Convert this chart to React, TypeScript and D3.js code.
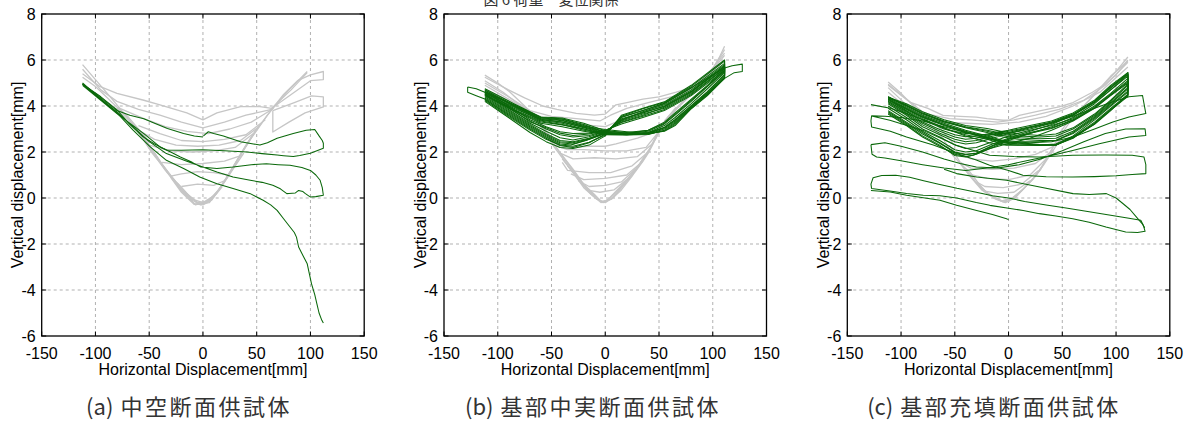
import * as d3 from 'd3';

type Pt = [number, number];

// axis ticks and labels
const xTicks = [-150, -100, -50, 0, 50, 100, 150];
const yTicks = [-6, -4, -2, 0, 2, 4, 6, 8];
const xLabel = 'Horizontal Displacement[mm]';
const yLabel = 'Vertical displacement[mm]';
const figTitle = '図 6 荷重－変位関係';
const captionTags = ['(a)', '(b)', '(c)'];
const captionNames = ['中空断面供試体', '基部中実断面供試体', '基部充填断面供試体'];

// (a) hollow section - earlier cycles (gray)
const grayA: Pt[][] = [
  [[-112, 5.8], [-100, 5.15], [-90, 4.6], [-80, 4.05], [-65, 3.2], [-50, 2.2], [-35, 1.2], [-20, 0.35], [-8, -0.25], [0, -0.3], [8, -0.1], [15, 0.35], [28, 1.35], [40, 2.3], [47, 2.8], [56, 3.35], [64, 3.85], [80, 4.7], [97, 5.5]],
  [[97, 5.45], [82, 4.7], [64, 3.9], [53, 3.97], [35, 3.97], [13, 3.7], [0, 3.4], [-15, 3.7], [-40, 4.05], [-55, 4.25], [-80, 4.55], [-96, 4.85], [-112, 5.4]],
  [[-112, 5.6], [-95, 4.7], [-80, 4.2], [-60, 3.85], [-40, 3.6], [-20, 3.3], [0, 3.05], [20, 3.3], [40, 3.6], [64, 3.85]],
  [[64, 3.85], [45, 3.3], [25, 3.0], [5, 2.8], [-15, 2.9], [-35, 3.1], [-55, 3.45], [-80, 3.95]],
  [[-80, 3.9], [-62, 3.05], [-48, 2.15], [-38, 1.45], [-25, 0.7], [-12, 0.05], [-4, -0.25], [6, -0.2], [16, 0.45], [30, 1.5], [45, 2.6], [60, 3.6], [66, 3.95]],
  [[58, 3.4], [40, 2.75], [20, 2.55], [0, 2.45], [-20, 2.5], [-40, 2.8], [-60, 3.15]],
  [[-62, 3.0], [-48, 2.0], [-36, 1.3], [-22, 0.45], [-10, -0.1], [-2, -0.3], [10, 0.05], [22, 0.85], [35, 1.9], [50, 3.0]],
  [[47, 2.8], [30, 2.2], [10, 2.05], [-10, 2.0], [-30, 2.05], [-50, 2.3]],
  [[-45, 1.95], [-32, 1.05], [-20, 0.3], [-7, -0.3], [5, -0.15], [18, 0.55], [30, 1.4], [38, 1.95]],
  [[36, 1.85], [20, 1.6], [0, 1.5], [-20, 1.45], [-38, 1.55]],
  [[-30, 0.9], [-20, 0.25], [-8, -0.28], [4, -0.2], [14, 0.3], [24, 1.0]],
  [[24, 1.0], [10, 1.1], [-5, 1.15], [-20, 1.05], [-30, 0.95]],
  [[-20, 0.5], [-5, 0.6], [10, 0.55], [20, 0.75]],
  [[-24, 0.65], [-10, -0.05], [0, -0.2], [12, 0.15], [18, 0.5]],
  [[-66, 3.3], [-52, 2.45], [-40, 1.6], [-28, 0.85], [-15, 0.2], [-5, -0.2], [4, -0.15], [14, 0.3], [26, 1.15], [38, 2.1], [52, 3.15]],
  [[52, 3.1], [35, 2.5], [15, 2.3], [-5, 2.25], [-25, 2.3], [-45, 2.55], [-62, 3.0]],
  [[64, 3.85], [75, 4.5], [88, 5.1], [100, 5.35], [112, 5.5], [112, 5.15], [100, 5.1], [85, 4.6], [64, 3.9]],
  [[65, 3.8], [65, 2.87], [80, 3.3], [95, 3.7], [112, 3.96], [112, 4.4], [101, 4.44], [85, 4.15], [65, 3.8]],
  [[-112, 5.25], [-100, 4.85], [-90, 4.4], [-80, 3.95], [-70, 3.55], [-60, 3.0], [-50, 2.45]],
  [[-112, 4.95], [-100, 4.55], [-90, 4.2], [-80, 3.85]],
];

// (a) final cycles (green)
const greenA: Pt[][] = [
  [[0.5, 2.7], [5, 2.88], [10, 2.8], [19, 2.7], [35, 2.45], [47, 2.35], [53, 2.3], [60, 2.4], [69, 2.6], [84, 2.8], [96, 2.95], [104, 2.98], [108, 2.7], [111, 2.5], [112, 2.38], [112, 2.16], [100, 1.95], [90, 1.85], [84, 1.8], [75, 1.84], [69, 1.87], [55, 1.93], [41, 2.0], [20, 2.05], [0, 2.1], [-20, 2.08], [-34, 2.09], [-45, 2.35], [-56, 2.67], [-68, 3.2], [-80, 3.83], [-95, 4.4], [-112, 4.95]],
  [[-112, 4.95], [-95, 4.35], [-80, 3.8], [-68, 3.6], [-55, 3.45], [-45, 3.25], [-33, 3.02], [-18, 2.8], [-8, 2.7], [0, 2.65]],
  [[-112, 4.9], [-95, 4.25], [-80, 3.67], [-65, 3.15], [-55, 2.8], [-40, 2.22], [-30, 2.0], [-21, 1.78], [-10, 1.55], [-2, 1.35], [13, 1.28], [28, 1.35], [45, 1.45], [59, 1.49], [70, 1.45], [81, 1.42], [92, 1.33], [100, 1.2], [105, 1.0], [109, 0.77], [111, 0.45], [112, 0.12], [105, 0.06], [100, 0.04], [95, 0.2], [93, 0.28], [89, 0.33], [86, 0.22], [80, 0.2], [78, 0.19], [72, 0.4], [65, 0.55], [55, 0.68], [44, 0.77], [28, 0.91], [13, 1.13], [0, 1.35], [-15, 1.6], [-34, 1.93], [-50, 2.45], [-65, 3.09], [-80, 3.74], [-95, 4.3], [-112, 4.95]],
  [[-112, 5.0], [-95, 4.3], [-80, 3.7], [-65, 2.95], [-49, 2.22], [-34, 1.64], [-18, 1.28], [-3, 0.91], [13, 0.62], [28, 0.41], [44, 0.19], [56, -0.1], [63, -0.3], [69, -0.54], [75, -0.9], [81, -1.26], [85, -1.5], [87, -1.7], [89, -2.13], [93, -2.5], [97, -2.86], [99, -3.3], [101, -3.73], [104, -4.2], [106, -4.6], [108, -5.0], [110.6, -5.32], [112, -5.44]],
];

// (b) solid base section
const grayB: Pt[][] = [
  [[-112, 5.34], [-100, 5.0], [-89, 4.62], [-75, 4.0], [-64, 3.46], [-56, 2.9], [-49, 2.31], [-40, 1.75], [-33, 1.3], [-25, 0.85], [-18, 0.43], [-10, 0.1], [-5, -0.1], [-2, -0.2], [4, 0], [12, 0.35], [19.5, 0.72], [28, 1.15], [35, 1.59], [40, 1.95], [44, 2.31], [48, 2.7], [50, 3.03], [58, 3.5], [66, 3.9], [81, 4.62], [92, 5.2], [100, 5.63], [106, 6.1], [111, 6.6]],
  [[111, 6.45], [100, 5.6], [90, 5.15], [80, 4.8], [66, 4.6], [50, 4.4], [35, 4.3], [20, 4.15], [10, 4.05], [0, 3.65], [-10, 3.6], [-27, 3.68], [-45, 3.85], [-58, 4.0], [-75, 4.35], [-90, 4.7], [-112, 5.25]],
  [[-112, 5.0], [-90, 4.4], [-70, 3.8], [-50, 3.55], [-27, 3.45], [-5, 3.35], [5, 3.6], [20, 3.9], [40, 4.15], [66, 4.45], [90, 5.0], [111, 6.2]],
  [[-112, 4.9], [-90, 4.3], [-64, 3.6], [-45, 3.3], [-25, 3.2], [0, 3.1], [15, 3.4], [35, 3.75], [60, 4.15], [85, 4.9], [111, 6.0]],
  [[-65, 3.55], [-55, 2.95], [-47, 2.3], [-38, 1.7], [-30, 1.2], [-20, 0.55], [-10, 0.1], [-4, -0.15], [2, -0.1], [10, 0.3], [20, 0.8], [32, 1.45], [42, 2.2], [50, 2.95], [58, 3.5], [66, 3.95]],
  [[66, 3.85], [55, 3.25], [45, 2.85], [30, 2.6], [10, 2.35], [0, 2.25], [-15, 2.25], [-30, 2.2], [-45, 2.3], [-55, 2.8], [-65, 3.4]],
  [[-50, 2.45], [-40, 1.85], [-30, 1.25], [-20, 0.6], [-10, 0.15], [-3, -0.18], [5, -0.05], [15, 0.45], [28, 1.2], [38, 1.85], [46, 2.5], [52, 3.0]],
  [[50, 2.9], [38, 2.2], [20, 2.05], [0, 2.05], [-20, 2.1], [-35, 2.1], [-48, 2.3]],
  [[45, 2.4], [30, 1.8], [10, 1.7], [-10, 1.75], [-30, 1.7], [-42, 1.95]],
  [[40, 2.0], [25, 1.4], [5, 1.1], [-15, 1.1], [-35, 1.2], [-40, 1.55]],
  [[35, 1.6], [20, 1.0], [0, 0.85], [-20, 0.8], [-32, 1.05]],
  [[28, 1.25], [15, 0.7], [0, 0.55], [-15, 0.5], [-25, 0.75]],
  [[20, 0.8], [8, 0.35], [-5, 0.25], [-18, 0.35]],
  [[-40, 1.7], [-30, 1.1], [-20, 0.45], [-8, -0.05], [0, -0.2], [8, 0.05], [18, 0.6], [30, 1.35], [40, 2.05]],
  [[-35, 1.4], [-25, 0.8], [-14, 0.2], [-4, -0.2], [6, -0.05], [15, 0.35], [25, 0.95], [35, 1.7]],
  [[50, 3.03], [66, 3.85], [80, 4.5], [95, 5.35], [111, 6.3]],
  [[55, 3.35], [75, 4.3], [95, 5.3], [111, 6.0]],
  [[-112, 5.1], [-95, 4.6], [-80, 4.05], [-65, 3.45], [-55, 2.85]],
  [[-112, 4.75], [-95, 4.35], [-75, 3.85]],
];

const greenB: Pt[][] = [
  [[-112, 4.3], [-90, 3.6], [-70, 3.0], [-55, 2.6], [-42, 2.28], [-30, 2.2], [-15, 2.4], [0, 2.78], [15, 3.55], [35, 3.88], [55, 4.15], [80, 4.85], [111, 5.95], [111, 5.6], [95, 4.9], [80, 4.3], [65, 3.7], [55, 3.3], [40, 2.95], [20, 2.8], [0, 2.85], [-20, 3.15], [-40, 3.42], [-60, 3.45], [-85, 4.0], [-112, 4.7]],
  [[-112, 4.45], [-90, 3.8], [-70, 3.2], [-55, 2.8], [-42, 2.5], [-30, 2.45], [-15, 2.6], [0, 2.85], [15, 3.4], [35, 3.75], [55, 4.05], [80, 4.7], [111, 5.8], [111, 5.45], [95, 4.75], [80, 4.1], [65, 3.5], [55, 3.15], [40, 2.85], [20, 2.75], [0, 2.8], [-20, 3.05], [-40, 3.3], [-60, 3.4], [-85, 3.9], [-112, 4.6]],
  [[-112, 4.55], [-90, 3.9], [-70, 3.35], [-55, 3.0], [-42, 2.75], [-30, 2.65], [-15, 2.72], [0, 2.9], [15, 3.3], [35, 3.6], [55, 3.95], [80, 4.6], [111, 5.7], [111, 5.35], [95, 4.6], [80, 4.0], [65, 3.4], [55, 3.05], [40, 2.8], [20, 2.78], [0, 2.78], [-20, 2.95], [-40, 3.2], [-60, 3.35], [-85, 3.85], [-112, 4.5]],
  [[-112, 4.2], [-90, 3.5], [-70, 2.85], [-55, 2.45], [-42, 2.2], [-30, 2.15], [-15, 2.3], [0, 2.7], [15, 3.6], [35, 3.9], [55, 4.18], [80, 4.9], [111, 6.0], [111, 5.5], [95, 4.85], [80, 4.25], [65, 3.65], [55, 3.25], [40, 2.95], [20, 2.85], [0, 2.92], [-20, 3.25], [-40, 3.48], [-60, 3.52], [-85, 4.1], [-112, 4.75]],
  [[-112, 4.35], [-90, 3.7], [-70, 3.1], [-55, 2.7], [-42, 2.4], [-30, 2.35], [-15, 2.55], [0, 2.82], [15, 3.45], [35, 3.7], [55, 4.0], [80, 4.65], [111, 5.75], [111, 5.3], [95, 4.55], [80, 3.95], [65, 3.3], [55, 3.0], [40, 2.78], [20, 2.75], [0, 2.75], [-20, 2.9], [-40, 3.1], [-60, 3.25], [-85, 3.8], [-112, 4.45]],
  [[-112, 4.5], [-90, 3.85], [-70, 3.25], [-55, 2.9], [-42, 2.62], [-30, 2.52], [-15, 2.66], [0, 2.88], [15, 3.35], [35, 3.65], [55, 3.9], [80, 4.55], [111, 5.65], [111, 5.25], [95, 4.5], [80, 3.92], [65, 3.25], [55, 2.95], [40, 2.76], [20, 2.74], [0, 2.76], [-20, 3.0], [-40, 3.25], [-60, 3.38], [-85, 3.95], [-112, 4.55]],
  [[-112, 4.65], [-90, 4.0], [-70, 3.4], [-55, 3.1], [-42, 2.88], [-30, 2.8], [-15, 2.82], [0, 2.95], [15, 3.22], [35, 3.5], [55, 3.8], [80, 4.45], [111, 5.55], [111, 5.2], [95, 4.45], [80, 3.88], [65, 3.15], [55, 2.9], [40, 2.8], [20, 2.88], [0, 2.98], [-20, 3.12], [-40, 3.36], [-60, 3.46], [-85, 4.02], [-112, 4.65]],
  [[-128, 4.83], [-128, 4.6], [-120, 4.45], [-112, 4.3], [-90, 3.65], [-70, 3.05], [-55, 2.65], [-42, 2.35], [-32, 2.3], [-18, 2.5], [0, 2.8], [15, 3.5], [35, 3.8], [55, 4.12], [80, 4.8], [111, 5.65], [118, 5.75], [127.5, 5.82], [127.5, 5.5], [120, 5.45], [111, 5.2], [95, 4.55], [80, 3.95], [65, 3.35], [55, 3.05], [40, 2.85], [20, 2.78], [0, 2.82], [-20, 3.1], [-40, 3.38], [-60, 3.5], [-85, 4.05], [-112, 4.6], [-120, 4.75], [-128, 4.83]],
  [[-112, 4.25], [-90, 3.55], [-70, 2.95], [-55, 2.55], [-42, 2.3], [-30, 2.25], [-15, 2.42], [0, 2.74], [15, 3.52], [35, 3.8], [55, 4.1], [80, 4.78], [111, 5.85], [111, 5.55], [95, 4.85], [80, 4.2], [65, 3.6], [55, 3.22], [40, 2.9], [20, 2.8], [0, 2.86], [-20, 3.2], [-40, 3.44], [-60, 3.5], [-85, 4.05], [-112, 4.7]],
  [[-112, 4.4], [-90, 3.75], [-70, 3.15], [-55, 2.75], [-42, 2.45], [-30, 2.4], [-15, 2.58], [0, 2.84], [15, 3.38], [35, 3.72], [55, 3.98], [80, 4.62], [111, 5.72], [111, 5.38], [95, 4.62], [80, 4.02], [65, 3.42], [55, 3.08], [40, 2.82], [20, 2.76], [0, 2.8], [-20, 3.0], [-40, 3.18], [-60, 3.3], [-85, 3.82], [-112, 4.5]],
  [[-112, 4.6], [-90, 3.95], [-70, 3.3], [-55, 3.05], [-42, 2.82], [-30, 2.72], [-15, 2.78], [0, 2.93], [15, 3.28], [35, 3.55], [55, 3.85], [80, 4.5], [111, 5.62], [111, 5.22], [95, 4.48], [80, 3.9], [65, 3.2], [55, 2.92], [40, 2.78], [20, 2.82], [0, 2.9], [-20, 3.08], [-40, 3.3], [-60, 3.42], [-85, 3.98], [-112, 4.62]],
];

// (c) filled base section
const grayC: Pt[][] = [
  [[-112, 5.04], [-100, 4.55], [-92, 4.17], [-80, 3.6], [-70, 3.05], [-61, 2.6], [-52, 1.86], [-44, 1.45], [-36, 1.13], [-28, 0.65], [-21, 0.26], [-12, 0.0], [-5, -0.17], [0, -0.15], [7, 0.12], [15, 0.45], [23, 0.84], [30, 1.25], [35, 1.71], [40, 2.1], [44, 2.43], [48, 2.85], [55, 3.3], [65, 3.75], [78, 4.4], [90, 5.0], [100, 5.5], [111, 6.13]],
  [[111, 6.0], [100, 5.35], [90, 4.95], [78, 4.6], [60, 4.15], [47, 3.96], [30, 3.8], [10, 3.59], [0, 3.38], [-5, 3.38], [-20, 3.45], [-30, 3.52], [-45, 3.55], [-61, 3.59], [-75, 3.9], [-92, 4.17], [-112, 4.9]],
  [[-112, 4.8], [-95, 4.05], [-75, 3.65], [-55, 3.45], [-35, 3.4], [-10, 3.3], [5, 3.4], [25, 3.6], [47, 3.85], [70, 4.25], [90, 4.9], [111, 5.9]],
  [[-112, 4.6], [-95, 3.95], [-78, 3.5], [-60, 3.3], [-40, 3.25], [-15, 3.2], [10, 3.3], [35, 3.55], [60, 4.0], [85, 4.6], [111, 5.7]],
  [[-55, 2.3], [-45, 1.55], [-36, 1.0], [-25, 0.4], [-15, 0.05], [-6, -0.15], [3, -0.05], [12, 0.3], [22, 0.8], [32, 1.4], [42, 2.1], [50, 2.7]],
  [[50, 2.6], [40, 2.2], [25, 1.9], [5, 1.7], [-15, 1.6], [-35, 1.7], [-50, 2.0]],
  [[42, 2.1], [25, 1.5], [5, 1.3], [-15, 1.25], [-35, 1.3], [-45, 1.55]],
  [[36, 1.75], [20, 1.0], [0, 0.8], [-20, 0.85], [-38, 1.05]],
  [[28, 1.2], [12, 0.6], [-5, 0.45], [-22, 0.5], [-30, 0.7]],
  [[20, 0.75], [5, 0.25], [-10, 0.2], [-22, 0.3]],
  [[-45, 1.5], [-35, 0.9], [-25, 0.35], [-12, -0.05], [-3, -0.2], [6, 0.0], [15, 0.45], [26, 1.0], [36, 1.75], [45, 2.5]],
  [[-40, 1.25], [-30, 0.65], [-18, 0.15], [-6, -0.12], [4, 0.02], [14, 0.4], [24, 0.9], [33, 1.5]],
  [[44, 2.43], [60, 3.5], [78, 4.4], [95, 5.3], [111, 5.95]],
  [[-112, 4.95], [-95, 4.3], [-80, 3.75], [-65, 3.1], [-52, 2.4]],
];

const greenC: Pt[][] = [
  [[-112, 3.7], [-95, 3.2], [-80, 2.7], [-64, 2.3], [-50, 1.85], [-40, 1.78], [-30, 1.9], [-15, 2.2], [0, 2.5], [20, 2.8], [40, 3.1], [60, 3.5], [80, 4.1], [95, 4.7], [111, 5.35], [111, 4.6], [95, 4.0], [80, 3.4], [60, 2.7], [44, 2.35], [29, 2.3], [10, 2.35], [-5, 2.4], [-20, 2.6], [-40, 2.85], [-60, 3.15], [-80, 3.5], [-95, 3.85], [-112, 4.3]],
  [[-112, 3.9], [-95, 3.4], [-80, 2.9], [-64, 2.5], [-50, 2.1], [-40, 2.0], [-30, 2.05], [-15, 2.35], [0, 2.6], [20, 2.9], [40, 3.2], [60, 3.6], [80, 4.2], [95, 4.8], [111, 5.45], [111, 4.75], [95, 4.1], [80, 3.5], [60, 2.85], [44, 2.5], [29, 2.45], [10, 2.45], [-5, 2.5], [-20, 2.7], [-40, 2.95], [-60, 3.25], [-80, 3.6], [-95, 3.95], [-112, 4.4]],
  [[-112, 4.0], [-95, 3.5], [-80, 3.0], [-64, 2.65], [-50, 2.3], [-40, 2.15], [-30, 2.2], [-15, 2.45], [0, 2.7], [20, 2.95], [40, 3.15], [60, 3.45], [80, 4.0], [95, 4.55], [111, 5.2], [111, 4.5], [95, 3.9], [80, 3.3], [60, 2.65], [44, 2.3], [29, 2.28], [10, 2.3], [-5, 2.35], [-20, 2.55], [-40, 2.75], [-60, 3.0], [-80, 3.4], [-95, 3.75], [-112, 4.2]],
  [[-112, 3.8], [-95, 3.3], [-80, 2.85], [-64, 2.4], [-50, 2.0], [-40, 1.9], [-30, 1.95], [-15, 2.25], [0, 2.55], [20, 2.85], [40, 3.05], [60, 3.4], [80, 3.95], [95, 4.5], [111, 5.1], [111, 4.45], [95, 3.85], [80, 3.25], [60, 2.6], [44, 2.3], [29, 2.32], [10, 2.4], [-5, 2.45], [-20, 2.65], [-40, 2.9], [-60, 3.2], [-80, 3.55], [-95, 3.9], [-112, 4.35]],
  [[-112, 4.1], [-95, 3.6], [-80, 3.1], [-64, 2.75], [-50, 2.45], [-40, 2.35], [-30, 2.4], [-15, 2.6], [0, 2.8], [20, 3.05], [40, 3.25], [60, 3.6], [80, 4.15], [95, 4.7], [111, 5.3], [111, 4.65], [95, 4.05], [80, 3.45], [60, 2.8], [44, 2.5], [29, 2.5], [10, 2.55], [-5, 2.65], [-20, 2.85], [-40, 3.05], [-60, 3.3], [-80, 3.65], [-95, 4.0], [-112, 4.4]],
  [[-112, 4.2], [-95, 3.7], [-80, 3.25], [-64, 2.9], [-50, 2.65], [-40, 2.55], [-30, 2.6], [-15, 2.75], [0, 2.9], [20, 3.1], [40, 3.3], [60, 3.65], [80, 4.2], [95, 4.85], [111, 5.4], [111, 4.9], [95, 4.2], [80, 3.6], [60, 3.0], [44, 2.7], [29, 2.65], [10, 2.7], [-5, 2.8], [-20, 2.95], [-40, 3.1], [-60, 3.35], [-80, 3.7], [-95, 4.05], [-112, 4.35]],
  [[-112, 3.65], [-95, 3.15], [-80, 2.65], [-64, 2.25], [-50, 1.9], [-40, 1.8], [-33, 1.86], [-18, 2.14], [-2, 2.35], [20, 2.6], [40, 2.95], [60, 3.35], [80, 3.9], [95, 4.45], [111, 5.0], [111, 4.5], [95, 3.8], [80, 3.2], [60, 2.65], [44, 2.29], [29, 2.29], [10, 2.3], [-2, 2.29], [-18, 2.4], [-40, 2.7], [-60, 3.05], [-80, 3.45], [-95, 3.8], [-112, 4.25]],
  [[-112, 3.75], [-95, 3.25], [-80, 2.78], [-64, 2.38], [-50, 1.98], [-40, 1.88], [-30, 1.95], [-15, 2.28], [0, 2.55], [20, 2.82], [40, 3.02], [60, 3.38], [80, 3.92], [95, 4.48], [111, 5.05], [111, 4.42], [95, 3.82], [80, 3.22], [60, 2.62], [44, 2.32], [29, 2.3], [10, 2.38], [-5, 2.42], [-20, 2.62], [-40, 2.88], [-60, 3.18], [-80, 3.52], [-95, 3.88], [-112, 4.3]],
  [[-112, 4.15], [-95, 3.65], [-80, 3.18], [-64, 2.82], [-50, 2.55], [-40, 2.45], [-30, 2.5], [-15, 2.68], [0, 2.85], [20, 3.08], [40, 3.28], [60, 3.62], [80, 4.18], [95, 4.78], [111, 5.38], [111, 4.8], [95, 4.15], [80, 3.55], [60, 2.9], [44, 2.6], [29, 2.58], [10, 2.62], [-5, 2.72], [-20, 2.9], [-40, 3.08], [-60, 3.32], [-80, 3.68], [-95, 4.02], [-112, 4.38]],
  [[-112, 4.3], [-95, 3.78], [-80, 3.3], [-64, 2.98], [-50, 2.75], [-40, 2.66], [-30, 2.7], [-15, 2.82], [0, 2.95], [20, 3.15], [40, 3.35], [60, 3.7], [80, 4.25], [95, 4.9], [111, 5.45], [111, 4.95], [95, 4.25], [80, 3.65], [60, 3.05], [44, 2.78], [29, 2.72], [10, 2.78], [-5, 2.88], [-20, 3.02], [-40, 3.15], [-60, 3.4], [-80, 3.75], [-95, 4.1], [-112, 4.38]],
  // wider cycles to +-128 mm
  [[-128, 4.06], [-110, 3.9], [-95, 3.67], [-70, 3.23], [-55, 2.95], [-40, 2.8], [-20, 2.75], [0, 2.8], [20, 3.0], [40, 3.25], [60, 3.55], [80, 3.9], [95, 4.15], [112, 4.4], [124.6, 4.46], [126, 4.1], [127.7, 3.67], [112, 3.52], [97, 3.3], [80, 3.0], [60, 2.65], [40, 2.45], [20, 2.4], [0, 2.45], [-20, 2.6], [-40, 2.85], [-60, 3.1], [-80, 3.35], [-100, 3.5], [-115, 3.55], [-127.4, 3.57], [-128, 3.35], [-127.4, 3.09], [-110, 2.9], [-94.9, 2.65], [-70, 2.3], [-48.5, 1.93], [-30, 1.65], [-17.6, 1.42], [0, 1.2], [13.3, 0.99], [35, 0.92], [59.7, 0.91], [80, 0.93], [100, 0.97], [115, 1.02], [127.7, 1.06], [127.7, 1.45], [126, 1.78], [115, 1.86], [90, 1.87], [59.7, 1.86], [28.7, 1.78], [5, 1.8], [-17.6, 1.86], [-48.5, 2.29], [-79.4, 2.94], [-110.4, 3.38], [-127.4, 3.57]],
  [[-128, 2.32], [-115, 2.4], [-100, 2.25], [-80, 2.0], [-60, 1.7], [-45, 1.5], [-30, 1.35], [-10, 1.3], [10, 1.45], [30, 1.7], [50, 2.05], [70, 2.45], [90, 2.8], [109, 3.0], [127, 3.01], [127.7, 2.72], [112, 2.65], [84.4, 2.36], [59.7, 2.07], [40, 1.85], [20, 1.65], [0, 1.45], [-20, 1.3], [-40, 1.2], [-60, 1.3], [-80, 1.45], [-100, 1.62], [-115, 1.74], [-122.7, 1.78], [-127, 1.9], [-128, 2.32]],
  [[-127.4, 0.41], [-128, 0.6], [-126, 0.88], [-118, 0.98], [-105, 0.99], [-92, 0.9], [-79, 0.75], [-65, 0.6], [-48, 0.42], [-30, 0.25], [-15, 0.1], [0, 0.0], [15, -0.15], [35, -0.3], [55, -0.45], [75, -0.6], [95, -0.75], [112, -0.88], [123, -0.97], [125.5, -1.2], [127, -1.45], [120, -1.5], [109, -1.48], [90.6, -1.26], [75, -1.05], [59.7, -0.9], [44, -0.78], [28.7, -0.68], [13.6, -0.54], [0, -0.45], [-17.4, -0.32], [-30, -0.2], [-48.3, 0.0], [-63.8, 0.1], [-79.4, 0.12], [-94.8, 0.2], [-110.4, 0.3], [-127.4, 0.41]],
  [[-60, 1.25], [-48.3, 1.06], [-29.7, 0.91], [-1.9, 0.77], [29, 0.48], [60, 0.19], [75, 0.15], [91, 0.19], [100, 0.0], [106.6, -0.25], [113, -0.5], [119, -0.83], [124, -1.1], [126.7, -1.3]],
  [[-128, 0.33], [-110, 0.26], [-94.8, 0.12], [-63.8, -0.1], [-48.3, -0.32], [-29.7, -0.54], [-15, -0.72], [-1.9, -0.9], [0, -0.94]],
];

const panelGray = [grayA, grayB, grayC];
const panelGreen = [greenA, greenB, greenC];

const W = 1194;
const H = 423;
const panelLeft = [41.7, 444, 847.3];
const panelTop = 14;
const panelW = 322.5;
const panelH = 322;
const captionCenter = [189, 593, 994];
const font = '"Liberation Sans", Arial, sans-serif';
const cjkFont = '"Noto Sans CJK JP", "Noto Sans CJK SC", sans-serif';

const xScale = d3.scaleLinear().domain([-150, 150]).range([0, panelW]);
const yScale = d3.scaleLinear().domain([-6, 8]).range([panelH, 0]);
const lineGen = d3
  .line<Pt>()
  .x((d) => xScale(d[0]))
  .y((d) => yScale(d[1]));

function Panel({ left, gray, green }: { left: number; gray: Pt[][]; green: Pt[][] }) {
  const tick = 4.5;
  return (
    <g transform={`translate(${left},${panelTop})`}>
      {/* dashed grid */}
      {xTicks.slice(1, -1).map((t) => (
        <line key={'gx' + t} x1={xScale(t)} x2={xScale(t)} y1={0} y2={panelH} stroke="#a8a8a8" strokeWidth={0.9} strokeDasharray="3,3" />
      ))}
      {yTicks.slice(1, -1).map((t) => (
        <line key={'gy' + t} x1={0} x2={panelW} y1={yScale(t)} y2={yScale(t)} stroke="#a8a8a8" strokeWidth={0.9} strokeDasharray="3,3" />
      ))}

      {gray.map((c, i) => (
        <path key={'g' + i} d={lineGen(c) || ''} fill="none" stroke="#c6c6c6" strokeWidth={1.3} strokeLinejoin="round" />
      ))}
      {green.map((c, i) => (
        <path key={'v' + i} d={lineGen(c) || ''} fill="none" stroke="#0a680a" strokeWidth={1.05} strokeLinejoin="round" />
      ))}

      <rect x={0} y={0} width={panelW} height={panelH} fill="none" stroke="#000" strokeWidth={1.3} />
      {xTicks.map((t) => (
        <g key={'tx' + t}>
          <line x1={xScale(t)} x2={xScale(t)} y1={panelH} y2={panelH - tick} stroke="#000" />
          <line x1={xScale(t)} x2={xScale(t)} y1={0} y2={tick} stroke="#000" />
          <text x={xScale(t)} y={panelH + 22.5} textAnchor="middle" fontSize={16} fontFamily={font}>
            {t}
          </text>
        </g>
      ))}
      {yTicks.map((t) => (
        <g key={'ty' + t}>
          <line x1={0} x2={tick} y1={yScale(t)} y2={yScale(t)} stroke="#000" />
          <line x1={panelW} x2={panelW - tick} y1={yScale(t)} y2={yScale(t)} stroke="#000" />
          <text x={-6} y={yScale(t) + 5.8} textAnchor="end" fontSize={16} fontFamily={font}>
            {t}
          </text>
        </g>
      ))}
      <text x={panelW / 2} y={panelH + 38.5} textAnchor="middle" fontSize={16} fontFamily={font}>
        {xLabel}
      </text>
      <text transform={`translate(-18.5,${panelH / 2}) rotate(-90)`} textAnchor="middle" fontSize={16} fontFamily={font}>
        {yLabel}
      </text>
    </g>
  );
}

export default function App() {
  return (
    <div style={{ position: 'absolute', left: 0, top: 0 }}>
      <svg width={W} height={H} style={{ display: 'block', background: '#fff' }}>
        <rect width={W} height={H} fill="#fff" />
        <text x={551} y={5} textAnchor="middle" fontSize={15} fontFamily={cjkFont} fill="#333">
          {figTitle}
        </text>
        {panelLeft.map((l, i) => (
          <Panel key={i} left={l} gray={panelGray[i]} green={panelGreen[i]} />
        ))}
        {captionNames.map((c, i) => (
          <text key={c} x={captionCenter[i]} y={415} textAnchor="middle" fontSize={22} fontFamily={cjkFont} fill="#333">
            <tspan>{captionTags[i]}</tspan>
            <tspan dx={7} letterSpacing={2.5}>
              {c}
            </tspan>
          </text>
        ))}
      </svg>
    </div>
  );
}
